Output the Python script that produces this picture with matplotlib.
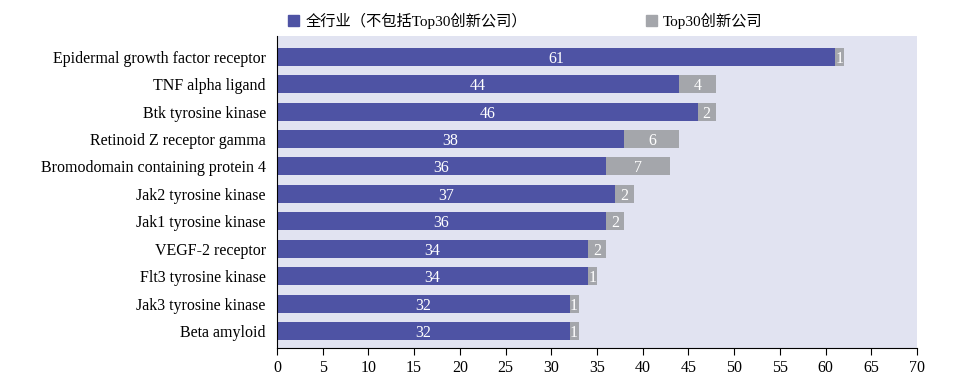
import numpy as np
import matplotlib.pyplot as plt
from matplotlib.patches import Patch

plt.rcParams['font.family'] = ['Liberation Serif', 'Noto Sans CJK SC']

# targets, top to bottom
targets = [
    "Epidermal growth factor receptor",
    "TNF alpha ligand",
    "Btk tyrosine kinase",
    "Retinoid Z receptor gamma",
    "Bromodomain containing protein 4",
    "Jak2 tyrosine kinase",
    "Jak1 tyrosine kinase",
    "VEGF-2 receptor",
    "Flt3 tyrosine kinase",
    "Jak3 tyrosine kinase",
    "Beta amyloid",
]
industry = [61, 44, 46, 38, 36, 37, 36, 34, 34, 32, 32]
top30 = [1, 4, 2, 6, 7, 2, 2, 2, 1, 1, 1]
x_ticks = list(range(0, 75, 5))

blue = "#4E53A4"
grey = "#A4A6AB"
bg = "#E1E3F1"

fig = plt.figure(figsize=(9.63, 3.84), dpi=100)
ax = fig.add_axes([0.2876, 0.093, 0.6646, 0.8133])
ax.set_facecolor(bg)

y = np.arange(len(targets))
ax.barh(y, industry, height=0.66, color=blue)
ax.barh(y, top30, left=industry, height=0.66, color=grey)

for i in range(len(targets)):
    ax.text(industry[i] / 2, y[i], str(industry[i]), color="white",
            ha="center", va="center_baseline", fontsize=11.5)
    ax.text(industry[i] + top30[i] / 2, y[i], str(top30[i]), color="white",
            ha="center", va="center_baseline", fontsize=11.5)

ax.set_yticks(y)
ax.set_yticklabels(targets, fontsize=11.5)
ax.set_ylim(len(targets) - 1 + 0.63, -0.755)
ax.set_xlim(0, 70)
ax.set_xticks(x_ticks)
ax.tick_params(axis="x", labelsize=11.5, length=5, direction="out")
ax.tick_params(axis="y", length=0, pad=8)

for s in ["top", "right"]:
    ax.spines[s].set_visible(False)
ax.spines["left"].set_color("black")
ax.spines["bottom"].set_color("black")

handles = [Patch(color=blue), Patch(color=grey)]
fig.legend(handles, ["全行业（不包括Top30创新公司）", "Top30创新公司"],
           loc="upper left", bbox_to_anchor=(0.288, 0.995), ncol=2,
           frameon=False, fontsize=11, handlelength=0.75, handleheight=0.75,
           handletextpad=0.4, columnspacing=7.75, borderaxespad=0.3)

fig.savefig("out.png", dpi=100)
